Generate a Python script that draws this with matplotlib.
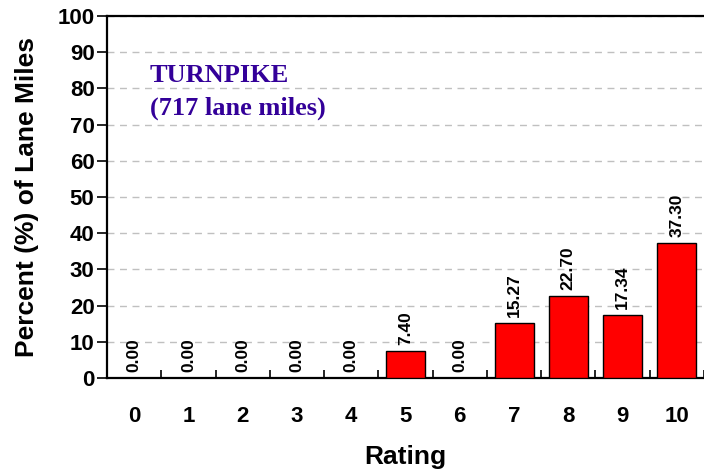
import numpy as np
import matplotlib.pyplot as plt
from matplotlib.ticker import MultipleLocator, FixedLocator

ratings = [str(i) for i in range(11)]
percents = [0.00, 0.00, 0.00, 0.00, 0.00, 7.40, 0.00, 15.27, 22.70, 17.34, 37.30]

plt.rcParams['font.family'] = ['Liberation Sans', 'DejaVu Sans']

fig = plt.figure(figsize=(7.04, 4.70), dpi=100)
ax = fig.add_axes([0.152, 0.196, 0.848, 0.770])

x = np.arange(len(ratings))
ax.bar(x, percents, width=0.72, color='#ff0000', edgecolor='black', linewidth=1, zorder=3)

for xi, v in zip(x, percents):
    ax.text(xi, v + 1.6, '%.2f' % v, rotation=90, ha='center', va='bottom',
            fontsize=12.5, fontweight='bold', zorder=4)

ax.set_xlim(-0.5, len(ratings) - 0.5)
ax.set_ylim(0, 100)
ax.yaxis.set_major_locator(MultipleLocator(10))
ax.set_xticks(x)
ax.set_xticklabels(ratings)
ax.xaxis.set_minor_locator(FixedLocator(np.arange(-0.5, len(ratings), 1.0)))
ax.tick_params(axis='x', which='major', length=0, pad=20, labelsize=16)
ax.tick_params(axis='x', which='minor', length=6, width=1.2, direction='in')
ax.tick_params(axis='y', which='major', length=7, width=1.2, direction='out', labelsize=16, pad=2)
for lab in ax.get_xticklabels() + ax.get_yticklabels():
    lab.set_fontweight('bold')

ax.grid(axis='y', linestyle=(0, (5, 4)), color='#c0c0c0', linewidth=1, zorder=0)
for side in ['left', 'bottom', 'top']:
    ax.spines[side].set_linewidth(1.6)
ax.spines['right'].set_visible(False)

ax.set_ylabel('Percent (%) of Lane Miles', fontsize=19, fontweight='bold', labelpad=13)
ax.set_xlabel('Rating', fontsize=19, fontweight='bold', labelpad=13)

ax.text(0.072, 0.79, 'TURNPIKE\n(717 lane miles)', transform=ax.transAxes,
        fontsize=19, fontweight='bold', color='#330099',
        family=['Liberation Serif', 'DejaVu Serif'], va='center', ha='left',
        linespacing=1.55)

fig.savefig('out.png', dpi=100)
